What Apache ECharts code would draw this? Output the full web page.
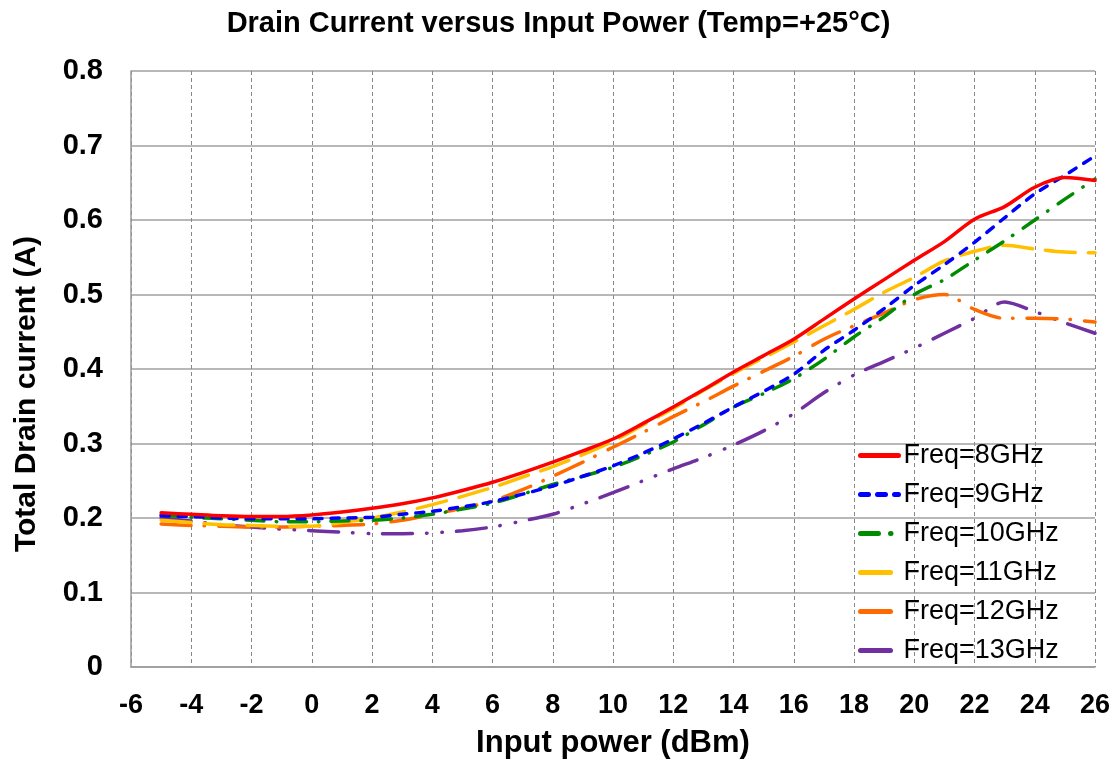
<!DOCTYPE html>
<html>
<head>
<meta charset="utf-8">
<script src="https://cdn.jsdelivr.net/npm/echarts@6/dist/echarts.min.js"></script>
<style>
html,body{margin:0;padding:0;background:#fff;}
#chart{width:1117px;height:765px;}
</style>
</head>
<body>
<div id="chart"></div>
<script>
const xValues = [-5,-4,-3,-2,-1,0,1,2,3,4,5,6,7,8,9,10,11,12,13,14,15,16,17,18,19,20,21,22,23,24,25,26];
const f8GHz  = [0.207,0.205,0.203,0.202,0.202,0.204,0.208,0.213,0.219,0.227,0.237,0.248,0.261,0.275,0.290,0.306,0.327,0.349,0.372,0.396,0.418,0.440,0.467,0.494,0.520,0.546,0.571,0.601,0.618,0.644,0.657,0.653];
const f9GHz  = [0.203,0.202,0.200,0.199,0.199,0.199,0.200,0.201,0.205,0.209,0.215,0.222,0.232,0.243,0.256,0.270,0.287,0.306,0.327,0.349,0.370,0.393,0.425,0.452,0.481,0.512,0.540,0.570,0.603,0.635,0.660,0.686];
const f10GHz = [0.204,0.201,0.199,0.197,0.195,0.195,0.196,0.197,0.200,0.205,0.212,0.220,0.232,0.245,0.256,0.268,0.284,0.302,0.325,0.349,0.367,0.387,0.413,0.443,0.470,0.500,0.520,0.546,0.572,0.600,0.628,0.655];
const f11GHz = [0.197,0.194,0.191,0.190,0.189,0.189,0.194,0.200,0.208,0.218,0.229,0.241,0.255,0.269,0.285,0.303,0.325,0.347,0.371,0.394,0.415,0.436,0.458,0.480,0.503,0.523,0.545,0.558,0.566,0.561,0.557,0.556];
const f12GHz = [0.192,0.190,0.189,0.188,0.188,0.189,0.190,0.192,0.197,0.205,0.213,0.223,0.238,0.256,0.275,0.295,0.315,0.336,0.356,0.377,0.397,0.417,0.440,0.458,0.475,0.493,0.500,0.480,0.468,0.468,0.467,0.463];
const f13GHz = [0.200,0.196,0.191,0.188,0.185,0.183,0.181,0.179,0.179,0.180,0.183,0.188,0.196,0.205,0.219,0.234,0.250,0.266,0.281,0.298,0.317,0.340,0.368,0.392,0.410,0.428,0.448,0.468,0.490,0.477,0.462,0.448];
const seriesNames = ['Freq=8GHz','Freq=9GHz','Freq=10GHz','Freq=11GHz','Freq=12GHz','Freq=13GHz'];
const seriesData = [f8GHz,f9GHz,f10GHz,f11GHz,f12GHz,f13GHz];
const colors = ['#FF0000','#0000FF','#008C00','#FFC000','#FF6A00','#7030A0'];
const dashes = ['solid',[8,9],[18,12,0.5,12],[30,13],[30,13,0.5,14],[30,14,0.5,15,0.5,14]];

const chart = echarts.init(document.getElementById('chart'));
const font = '"Liberation Sans", Arial, sans-serif';
chart.setOption({
  animation:false,
  backgroundColor:'#fff',
  title:{
    text:'Drain Current versus Input Power (Temp=+25°C)',
    left:'center', top:4,
    textStyle:{fontFamily:font,fontWeight:'bold',fontSize:29,color:'#000'}
  },
  legend:{
    orient:'vertical',
    left:853, top:437,
    itemWidth:38, itemHeight:14, itemGap:12,
    itemStyle:{opacity:0},
    lineStyle:{width:5},
    textStyle:{fontFamily:font,fontSize:27,color:'#000',lineHeight:26},
    data:seriesNames
  },
  grid:{left:131,right:22,top:71,bottom:98,containLabel:false},
  xAxis:{
    type:'value', min:-6, max:26, interval:2,
    name:'Input power (dBm)', nameLocation:'middle', nameGap:61,
    nameTextStyle:{fontFamily:font,fontWeight:'bold',fontSize:31,color:'#000'},
    axisLine:{show:true,lineStyle:{color:'#999',width:1.5}},
    axisTick:{show:false},
    axisLabel:{fontFamily:font,fontWeight:'bold',fontSize:27,color:'#000',margin:25},
    splitLine:{show:true,lineStyle:{color:'#888',type:[4,3],width:1}}
  },
  yAxis:{
    type:'value', min:0, max:0.8, interval:0.1,
    name:'Total Drain current (A)', nameLocation:'middle', nameGap:89, nameRotate:90,
    nameTextStyle:{fontFamily:font,fontWeight:'bold',fontSize:30,color:'#000',padding:[0,50,0,0]},
    axisLine:{show:true,onZero:false,lineStyle:{color:'#999',width:1.5}},
    axisTick:{show:false},
    axisLabel:{fontFamily:font,fontWeight:'bold',fontSize:29,color:'#000',margin:28,
      formatter:v=>v===0?'0':v.toFixed(1)},
    splitLine:{show:true,lineStyle:{color:'#a0a0a0',width:1.5}}
  },
  series:seriesNames.map((n,i)=>({
    name:n, type:'line', smooth:0.3, symbol:'none',
    data:xValues.map((x,j)=>[x,seriesData[i][j]]),
    lineStyle:{color:colors[i],width:3.5,type:dashes[i],cap:'round'},
    itemStyle:{color:colors[i]},
    z: 10-i
  }))
});
</script>
</body>
</html>
